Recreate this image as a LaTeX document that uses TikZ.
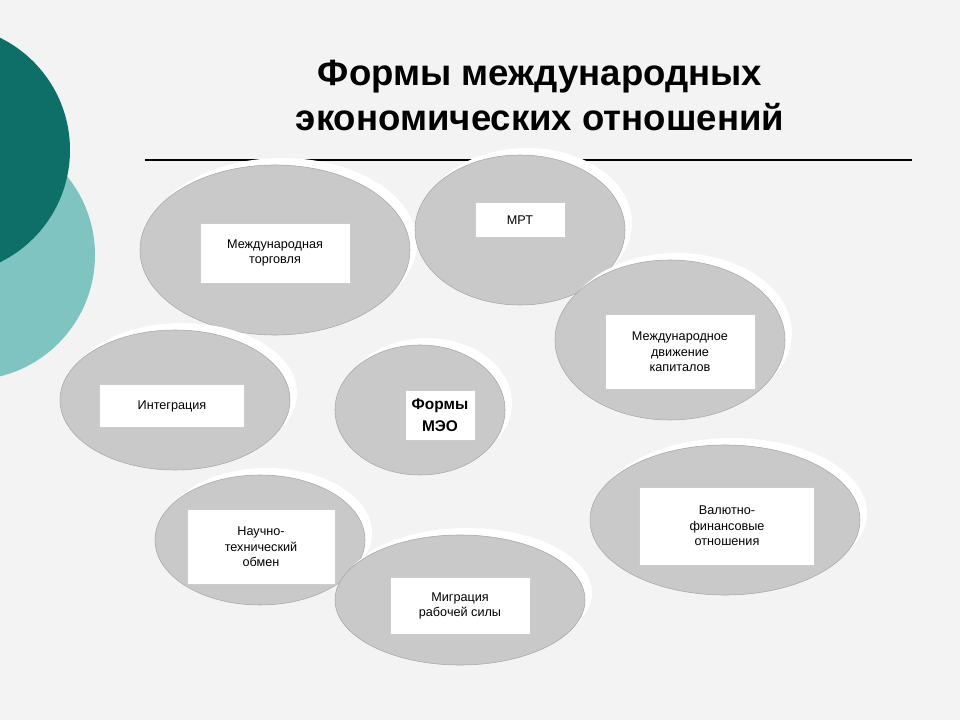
\documentclass[tikz,border=0pt]{standalone}
\usepackage{fontspec}
\setmainfont{Liberation Sans}
\usetikzlibrary{positioning}
\definecolor{bgcol}{HTML}{F3F3F3}
\definecolor{disk}{HTML}{C9C9C9}
\definecolor{diskedge}{HTML}{A8A8A8}
\definecolor{tealdark}{HTML}{0E6F68}
\definecolor{teallight}{HTML}{7FC4C0}
\begin{document}
\begin{tikzpicture}[
  x=0.025cm, y=-0.025cm,
  label/.style={draw=gray!40, fill=white, align=center, font=\fontsize{9}{11}\selectfont, inner sep=4pt},
]
  \useasboundingbox (0,0) rectangle (960,720);
  \fill[bgcol] (0,0) rectangle (960,720);
  % left decoration
  \begin{scope}
    \clip (0,0) rectangle (960,720);
    \fill[teallight] (-30,255) circle (125);
    \fill[tealdark] (-55,150) circle (125);
  \end{scope}
  % title
  \node[font=\bfseries\fontsize{26}{32}\selectfont, align=center] (title) at (540,96)
    {Формы международных\\экономических отношений};
  \coordinate (lineL) at (145,160);
  \coordinate (lineR) at (912,160);
  \draw[thick] (lineL) -- (lineR);
  % disks: name / centre / rx / ry
  \foreach \n/\cx/\cy/\rx/\ry in {d1/275/250/135/85, d2/520/230/105/75, d3/670/340/115/80,
      d4/175/400/115/70, d5/420/410/85/65, d6/260/540/105/65, d7/725/520/135/75, d8/460/600/125/65} {
    \fill[white] (\cx+7,\cy-7) ellipse [x radius=\rx, y radius=\ry];
    \filldraw[fill=disk, draw=diskedge] (\cx,\cy) ellipse [x radius=\rx, y radius=\ry];
    \coordinate (\n) at (\cx,\cy);
  }
  % labels
  \node[label, minimum width=150*0.025cm, minimum height=60*0.025cm] (trade) at (275,253) {Международная\\торговля};
  \node[label, minimum width=90*0.025cm, minimum height=35*0.025cm] (mrt) at (520,220) {МРТ};
  \node[label, minimum width=150*0.025cm, minimum height=75*0.025cm] (capital) at (680,352) {Международное\\движение\\капиталов};
  \node[label, minimum width=145*0.025cm, minimum height=43*0.025cm] (integr) at (172,406) {Интеграция};
  \node[label, font=\bfseries\fontsize{11}{16}\selectfont, minimum width=70*0.025cm, minimum height=50*0.025cm] (forms) at (440,415) {Формы\\МЭО};
  \node[label, minimum width=148*0.025cm, minimum height=75*0.025cm] (science) at (261,547) {Научно-\\технический\\обмен};
  \node[label, minimum width=175*0.025cm, minimum height=78*0.025cm] (currency) at (727,526) {Валютно-\\финансовые\\отношения};
  \node[label, minimum width=140*0.025cm, minimum height=57*0.025cm] (migr) at (460,606) {Миграция\\рабочей силы};
\end{tikzpicture}
\end{document}
